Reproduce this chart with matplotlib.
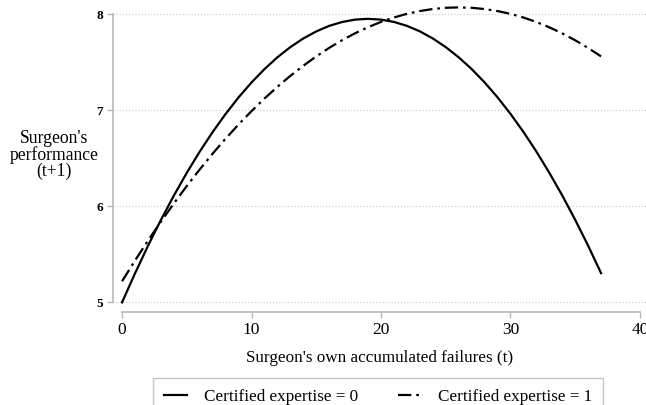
import matplotlib.pyplot as plt
from matplotlib.lines import Line2D

plt.rcParams['font.family'] = ['Liberation Serif', 'DejaVu Serif']

# accumulated failures (t)
failures = list(range(0, 38))
# predicted performance (t+1), certified expertise = 0 (solid)
perf_cert0 = [5.000, 5.302, 5.588, 5.858, 6.111, 6.348, 6.569, 6.773, 6.961, 7.133,
              7.288, 7.427, 7.550, 7.656, 7.746, 7.819, 7.877, 7.917, 7.942, 7.950,
              7.942, 7.918, 7.877, 7.820, 7.746, 7.656, 7.550, 7.428, 7.289, 7.134,
              6.962, 6.774, 6.570, 6.349, 6.113, 5.859, 5.590, 5.304]
# certified expertise = 1 (dashed)
perf_cert1 = [5.220, 5.435, 5.642, 5.840, 6.029, 6.211, 6.383, 6.548, 6.704, 6.851,
              6.990, 7.121, 7.243, 7.357, 7.462, 7.559, 7.648, 7.728, 7.800, 7.863,
              7.918, 7.964, 8.002, 8.031, 8.052, 8.065, 8.069, 8.065, 8.052, 8.031,
              8.002, 7.964, 7.917, 7.862, 7.799, 7.727, 7.647, 7.559]

xticks = [0, 10, 20, 30, 40]
yticks = [5, 6, 7, 8]
labels = ['Certified expertise = 0', 'Certified expertise = 1']

W, H = 646, 405
fig = plt.figure(figsize=(W / 100, H / 100), dpi=100)
ax = fig.add_axes([113 / W, (H - 312) / H, 1 - 113 / W, (312 - 2.5) / H])

gray = '#b8b8b8'
dashdot = (0, (6, 2.2, 1.2, 2.2))
ax.set_xlim(-0.7, 40.47)
ax.set_ylim(4.9, 8.12)

for y in yticks:
    ax.axhline(y, color='#d0d0d0', lw=0.9, ls=(0, (1, 1.5)), zorder=0)

ax.plot(failures, perf_cert0, color='black', lw=1.6, label=labels[0])
ax.plot(failures, perf_cert1, color='black', lw=1.6, ls=dashdot, label=labels[1])

for s in ['top', 'right']:
    ax.spines[s].set_visible(False)
ax.spines['left'].set_bounds(5, 8)
ax.spines['bottom'].set_bounds(0, 40)
for s in ['left', 'bottom']:
    ax.spines[s].set_color(gray)
    ax.spines[s].set_linewidth(1.2)

ax.set_xticks(xticks)
ax.set_yticks(yticks)
ax.tick_params(axis='both', color=gray, length=4, width=1)
ax.tick_params(axis='x', labelsize=12.5, pad=3)
ax.tick_params(axis='y', labelsize=9.5, pad=3)
for t in ax.get_yticklabels():
    t.set_fontweight('bold')

ax.set_xlabel("Surgeon's own accumulated failures (t)", fontsize=12.3, labelpad=9)
fig.text(54 / W, 1 - 155 / H, "Surgeon's\nperformance\n(t+1)", ha='center', va='center',
         fontsize=12.7, linespacing=0.95)

handles = [Line2D([], [], color='black', lw=1.6),
           Line2D([], [], color='black', lw=1.6, ls=dashdot)]
leg = fig.legend(handles, labels, loc='upper left', bbox_to_anchor=(153 / W, 1 - 378 / H),
                 ncol=2, fontsize=12.3, frameon=True, fancybox=False, handlelength=1.35,
                 columnspacing=2.35, borderpad=0.62, borderaxespad=0, handletextpad=1.0)
leg.get_frame().set_edgecolor(gray)
leg.get_frame().set_linewidth(1)

fig.savefig('out.png', dpi=100)
